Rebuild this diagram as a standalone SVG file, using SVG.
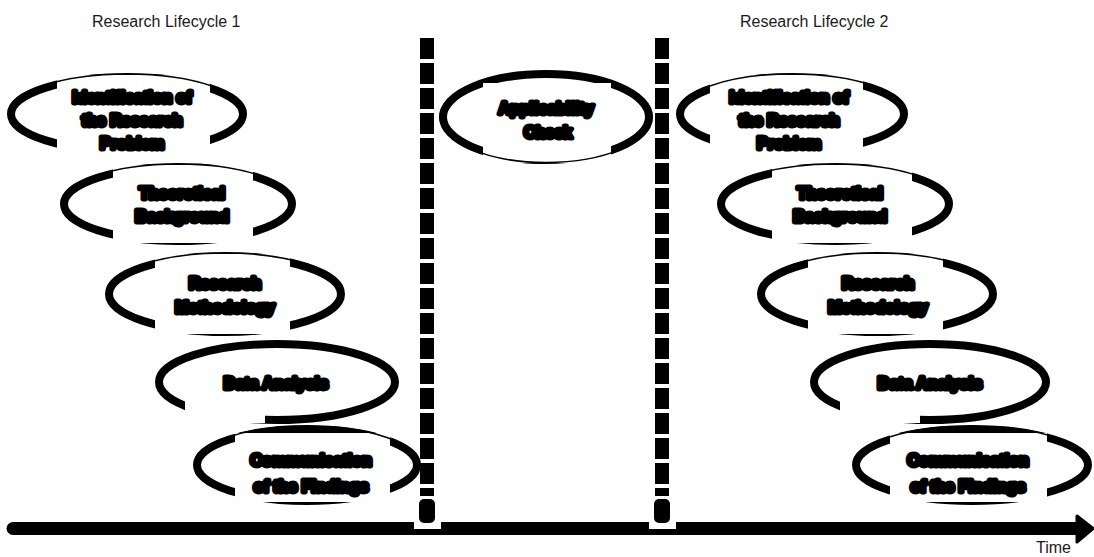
<svg xmlns="http://www.w3.org/2000/svg" width="1094" height="557" viewBox="0 0 1094 557">
<style>
.ell{fill:#fff;stroke:#000;stroke-width:8}
.thin{fill:none;stroke:#000;stroke-width:1.5}
.box{fill:#fff;stroke:none}
.lbl{font-family:"Liberation Sans",Arial,sans-serif;font-weight:bold;font-size:16px;fill:#000;stroke:#000;stroke-width:5;stroke-linejoin:round;text-anchor:middle;dominant-baseline:central}
.title{font-family:"Liberation Sans",Arial,sans-serif;font-size:16px;fill:#1a1a1a}
.dash{fill:none;stroke:#000;stroke-width:14;stroke-linecap:butt;stroke-dasharray:21 4}
</style>
<defs>
<clipPath id="tophalf" clipPathUnits="objectBoundingBox"><rect x="0" y="0" width="1" height="0.5"/></clipPath>
</defs>
<rect width="1094" height="557" fill="#fff"/>
<text class="title" x="92" y="27">Research Lifecycle 1</text>
<text class="title" x="740" y="27">Research Lifecycle 2</text>

<g id="L1">
<ellipse class="ell" cx="127" cy="114" rx="116" ry="37"/>
<rect class="box" x="57" y="75" width="153" height="80"/>
<ellipse class="thin" cx="127" cy="114" rx="119" ry="40" clip-path="url(#tophalf)"/>
<text class="lbl" x="132" y="97">Identification of</text>
<text class="lbl" x="132" y="120">the Research</text>
<text class="lbl" x="132" y="143">Problem</text>
</g>
<g id="L2">
<ellipse class="ell" cx="178" cy="204" rx="114" ry="37"/>
<rect class="box" x="113" y="165" width="140" height="78"/>
<ellipse class="thin" cx="178" cy="204" rx="117" ry="40" clip-path="url(#tophalf)"/>
<text class="lbl" x="182" y="193">Theoretical</text>
<text class="lbl" x="182" y="216">Background</text>
</g>
<g id="L3">
<ellipse class="ell" cx="225" cy="294" rx="116" ry="38"/>
<rect class="box" x="155" y="254" width="135" height="80"/>
<ellipse class="thin" cx="225" cy="294" rx="119" ry="41" clip-path="url(#tophalf)"/>
<text class="lbl" x="225" y="283">Research</text>
<text class="lbl" x="225" y="307">Methodology</text>
</g>
<g id="L4">
<ellipse class="ell" cx="277" cy="382" rx="118" ry="38"/>
<rect class="box" x="185" y="372" width="80" height="51"/>
<text class="lbl" x="276" y="383">Data Analysis</text>
</g>
<g id="L5">
<ellipse class="ell" cx="307" cy="465" rx="110" ry="36"/>
<rect class="box" x="235" y="433" width="155" height="69"/>
<ellipse class="thin" cx="307" cy="465" rx="113" ry="39" clip-path="url(#tophalf)"/>
<text class="lbl" x="311" y="460">Communication</text>
<text class="lbl" x="311" y="486">of the Findings</text>
</g>

<g id="Apply">
<ellipse class="ell" cx="546" cy="117" rx="103" ry="43"/>
<rect class="box" x="483" y="83" width="128" height="80"/>
<ellipse class="thin" cx="546" cy="117" rx="106" ry="45.5"/>
<text class="lbl" x="546" y="108">Applicability</text>
<text class="lbl" x="548" y="132">Check</text>
</g>

<g id="R1">
<ellipse class="ell" cx="792" cy="114" rx="112" ry="37"/>
<rect class="box" x="710" y="75" width="153" height="80"/>
<ellipse class="thin" cx="792" cy="114" rx="115" ry="40" clip-path="url(#tophalf)"/>
<text class="lbl" x="789" y="97">Identification of</text>
<text class="lbl" x="789" y="120">the Research</text>
<text class="lbl" x="789" y="143">Problem</text>
</g>
<g id="R2">
<ellipse class="ell" cx="835" cy="204" rx="114" ry="37"/>
<rect class="box" x="772" y="165" width="140" height="78"/>
<ellipse class="thin" cx="835" cy="204" rx="117" ry="40" clip-path="url(#tophalf)"/>
<text class="lbl" x="840" y="193">Theoretical</text>
<text class="lbl" x="840" y="216">Background</text>
</g>
<g id="R3">
<ellipse class="ell" cx="877" cy="294" rx="116" ry="38"/>
<rect class="box" x="808" y="254" width="135" height="80"/>
<ellipse class="thin" cx="877" cy="294" rx="119" ry="41" clip-path="url(#tophalf)"/>
<text class="lbl" x="878" y="283">Research</text>
<text class="lbl" x="878" y="307">Methodology</text>
</g>
<g id="R4">
<ellipse class="ell" cx="930" cy="382" rx="116" ry="38"/>
<rect class="box" x="840" y="372" width="80" height="51"/>
<text class="lbl" x="930" y="383">Data Analysis</text>
</g>
<g id="R5">
<ellipse class="ell" cx="972" cy="465" rx="116" ry="36"/>
<rect class="box" x="890" y="433" width="157" height="69"/>
<ellipse class="thin" cx="972" cy="465" rx="119" ry="39" clip-path="url(#tophalf)"/>
<text class="lbl" x="968" y="460">Communication</text>
<text class="lbl" x="968" y="486">of the Findings</text>
</g>

<g id="connectors">
<line class="dash" x1="427" y1="38" x2="427" y2="496"/>
<line class="dash" x1="662" y1="38" x2="662" y2="496"/>
<line x1="13" y1="528.5" x2="1080" y2="528.5" stroke="#000" stroke-width="13" stroke-linecap="round"/>
<polygon points="1077,516 1093,528.5 1077,542" fill="#000" stroke="#000" stroke-width="3" stroke-linejoin="round"/>
<rect class="box" x="414" y="497" width="27" height="32"/>
<rect class="box" x="649" y="497" width="27" height="32"/>
<rect x="419" y="499" width="16" height="24" rx="5" fill="#000"/>
<rect x="654" y="499" width="16" height="24" rx="5" fill="#000"/>
</g>
<text class="title" x="1036" y="553">Time</text>
</svg>
